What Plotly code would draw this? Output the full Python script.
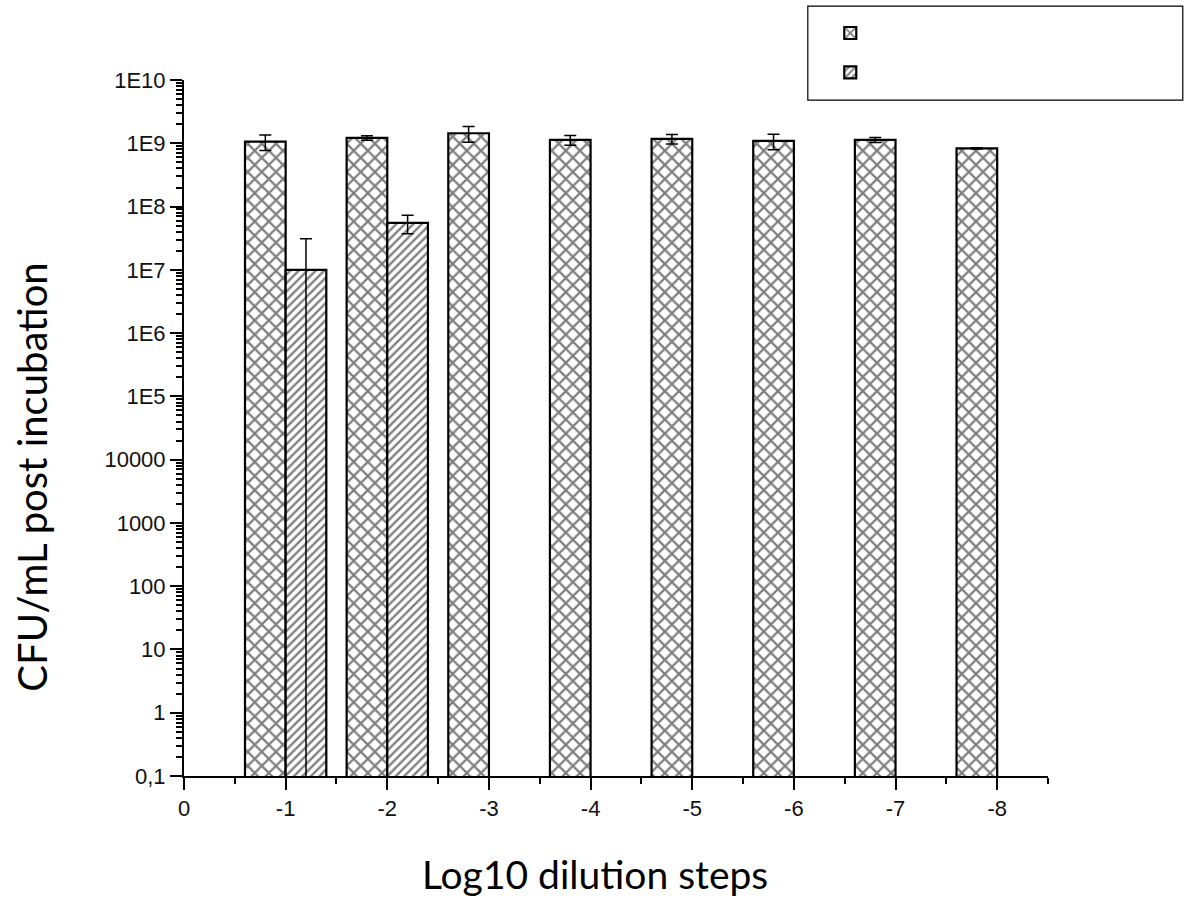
import plotly.graph_objects as go

# ---- data ----
dilutions = [-1, -2, -3, -4, -5, -6, -7, -8]
series1_values = [1.06e9, 1.22e9, 1.44e9, 1.13e9, 1.17e9, 1.09e9, 1.13e9, 0.83e9]
series1_errors = [0.29e9, 0.10e9, 0.40e9, 0.20e9, 0.20e9, 0.30e9, 0.10e9, 0.02e9]
series2_dilutions = [-1, -2]
series2_values = [1.0e7, 5.5e7]
series2_errors = [2.1e7, 1.8e7]

x_tickvals = [0, -1, -2, -3, -4, -5, -6, -7, -8]
x_ticktext = ["0", "-1", "-2", "-3", "-4", "-5", "-6", "-7", "-8"]
y_tickvals = [0.1, 1, 10, 100, 1000, 1e4, 1e5, 1e6, 1e7, 1e8, 1e9, 1e10]
y_ticktext = ["0,1", "1", "10", "100", "1000", "10000", "1E5", "1E6", "1E7", "1E8", "1E9", "1E10"]

x_title = "Log10 dilution steps"
y_title = "CFU/mL post incubation"

x_minor = [-0.5 - i for i in range(9)]
y_minor = [k * 10.0 ** n for n in range(-1, 10) for k in range(2, 10)]

fig = go.Figure()

fig.add_trace(go.Bar(
    x=dilutions, y=series1_values, name=" ",
    width=0.4, offset=0,
    marker=dict(color="white", line=dict(color="black", width=2.2),
                pattern=dict(shape="x", fgcolor="black", bgcolor="white", size=10, solidity=0.4)),
    error_y=dict(type="data", array=series1_errors, color="black", thickness=1.5, width=6),
))
fig.add_trace(go.Bar(
    x=series2_dilutions, y=series2_values, name="  ",
    width=0.4, offset=-0.4,
    marker=dict(color="white", line=dict(color="black", width=2.2),
                pattern=dict(shape="/", fgcolor="black", bgcolor="white", size=6, solidity=0.4)),
    error_y=dict(type="data", array=series2_errors, color="black", thickness=1.5, width=6),
))

tickfont = dict(family="Liberation Sans, Arial, sans-serif", size=22, color="#111")
titlefont_x = dict(family="Lato, sans-serif", size=39, color="black")
titlefont_y = dict(family="Lato, sans-serif", size=40, color="black")

fig.update_layout(
    width=1188, height=899,
    margin=dict(l=184, r=140, t=80, b=123, autoexpand=False),
    paper_bgcolor="white", plot_bgcolor="white",
    barmode="overlay",
    showlegend=True,
    legend=dict(x=0.748, y=1.103, xanchor="left", yanchor="top",
                borderwidth=0, bgcolor="rgba(0,0,0,0)",
                font=dict(size=28), tracegroupgap=0),
    shapes=[dict(type="rect", xref="paper", yref="paper",
                 x0=0.722, x1=1.156, y0=0.971, y1=1.106,
                 line=dict(color="black", width=1.2), fillcolor="rgba(0,0,0,0)", layer="below")],
    annotations=[
        dict(text=x_title, xref="paper", yref="paper", x=0.476, y=-0.141,
             xanchor="center", yanchor="middle", showarrow=False, font=titlefont_x),
        dict(text=y_title, xref="paper", yref="paper", x=-0.176, y=0.430, textangle=-90,
             xanchor="center", yanchor="middle", showarrow=False, font=titlefont_y),
    ],
    xaxis=dict(
        range=[0, -8.5], tickmode="array", tickvals=x_tickvals, ticktext=x_ticktext,
        ticks="outside", ticklen=12, tickwidth=2, tickcolor="black",
        showline=True, linecolor="black", linewidth=2, showgrid=False, zeroline=False,
        tickfont=tickfont,
        minor=dict(tickmode="array", tickvals=x_minor, ticks="outside", ticklen=6,
                   tickwidth=2, tickcolor="black", showgrid=False),
    ),
    yaxis=dict(
        type="log", range=[-1, 10], tickmode="array", tickvals=y_tickvals, ticktext=y_ticktext,
        ticks="outside", ticklen=12, tickwidth=2, tickcolor="black",
        showline=True, linecolor="black", linewidth=2, showgrid=False, zeroline=False,
        tickfont=tickfont,
        minor=dict(tickmode="array", tickvals=y_minor, ticks="outside", ticklen=6,
                   tickwidth=1.5, tickcolor="black", showgrid=False),
    ),
)

# remove the browser's default page margin so the 1188x899 figure fills the window exactly
fig.write_html("out.html", config={"displayModeBar": False},
               post_script="document.body.style.margin='0';document.body.style.overflow='hidden';")
